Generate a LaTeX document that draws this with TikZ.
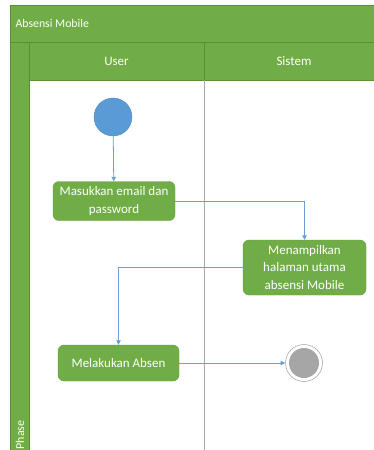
\documentclass[tikz,border=0pt]{standalone}
\usepackage{fontspec}
\setmainfont{Carlito}
\usetikzlibrary{arrows.meta}
\definecolor{lanegreen}{HTML}{70AD47}
\definecolor{darkgreen}{HTML}{5A8F38}
\definecolor{boxedge}{HTML}{639E3E}
\definecolor{flowblue}{HTML}{6A9FD0}
\definecolor{startblue}{HTML}{5B9BD5}
\definecolor{lanegrey}{HTML}{A9A9A9}
\definecolor{endgrey}{HTML}{A6A6A6}
\tikzset{
  actbox/.style={draw=boxedge, fill=lanegreen, rounded corners=6pt, text=white,
    align=center, font=\fontsize{13}{17.5}\selectfont, inner sep=0pt},
  flow/.style={draw=flowblue, line width=0.8pt, -{Triangle[width=4.5pt,length=4.5pt]}},
  hdrtext/.style={text=white, font=\fontsize{13}{15}\selectfont},
}
\begin{document}
\begin{tikzpicture}[x=1pt,y=-1pt]
\useasboundingbox (0,0) rectangle (374,450);
\fill[white] (0,0) rectangle (374,450);
% title bar
\filldraw[fill=lanegreen, draw=darkgreen, line width=0.8pt] (10,5) rectangle (390,42);
\node[anchor=west, text=white, font=\fontsize{11.8}{13}\selectfont] (title) at (12,23.5) {Absensi Mobile};
% header row
\filldraw[fill=lanegreen, draw=darkgreen, line width=0.8pt] (29,42) rectangle (390,80);
\draw[darkgreen, line width=0.6pt] (204,42) -- (204,80);
\node[hdrtext] (user) at (116.5,61) {User};
\node[hdrtext] (sistem) at (294,61) {Sistem};
% phase column
\filldraw[fill=lanegreen, draw=darkgreen, line width=0.8pt] (10,42) rectangle (29,460);
\node[rotate=90, anchor=west, text=white, font=\fontsize{12}{14}\selectfont] (phase) at (20,453) {Phase};
% lane divider
\draw[lanegrey, line width=0.8pt] (204,80) -- (204,452);
% nodes
\node[circle, fill=startblue, draw=startblue!90!black, line width=0.4pt, minimum size=38pt, inner sep=0pt] (start) at (113,117) {};
\node[actbox, minimum width=122pt, minimum height=39pt] (b1) at (114,201) {Masukkan email dan\\password};
\node[actbox, minimum width=123pt, minimum height=55pt] (b2) at (304.5,267.5) {Menampilkan\\halaman utama\\absensi Mobile};
\node[actbox, minimum width=121pt, minimum height=36pt] (b3) at (118.5,363) {Melakukan Absen};
\node[circle, draw=lanegrey, fill=white, line width=0.6pt, minimum size=37pt, inner sep=0pt] (fin) at (304,363) {};
\node[circle, fill=endgrey, minimum size=30pt, inner sep=0pt] (fininner) at (fin.center) {};
% flows
\draw[flow] (start) -- (b1);
\draw[flow] (b1.east) -| (b2.north);
\draw[flow] (b2.west) -| (b3.north);
\draw[flow] (b3.east) -- (fin.west);
\end{tikzpicture}
\end{document}
